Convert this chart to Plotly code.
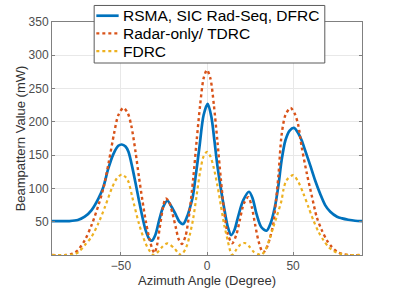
import plotly.graph_objects as go

# Blue: RSMA, SIC Rad-Seq, DFRC
rsma_angle = [-90, -80, -75, -71, -67, -63, -60.2, -57.3, -54.3, -51.5, -49.5, -47.3, -45.6, -43.4,
              -41.5, -39.5, -37.5, -35.6, -33.5, -32, -30, -27.8, -25.5, -23, -20.5, -18, -16, -13.8,
              -11.5, -10, -8.3, -6.5, -4.4, -2, 0.4, 2.5, 4.3, 6, 8.2, 10, 12.1, 14, 16, 18, 21,
              24.4, 26.5, 28.7, 31.5, 34.6, 37, 39.4, 41.5, 43.3, 45.5, 48, 50.5, 53, 55, 57, 59.9,
              62.8, 65.7, 68.6, 71.6, 75.5, 78.4, 82, 86, 90]
rsma_value = [51, 51, 52.5, 57.5, 67.5, 85, 102, 130, 152, 164, 166, 163, 155, 132,
              108, 82, 57, 37, 24, 21.5, 30, 52, 72, 81.5, 72, 60, 50, 46.5,
              58, 70, 87, 120, 162, 210, 227, 208, 172, 135, 97, 70, 42, 30, 38, 57, 82,
              95, 85, 62, 42, 36.5, 48, 72, 105, 142, 172, 187, 191, 183, 172, 157, 135,
              112, 92, 75, 65, 57.5, 55, 53, 51.5, 51]

# Red: Radar-only / TDRC
radar_angle = [-90, -82, -78, -75, -71, -67, -63, -60, -57, -54, -51.5, -48.5, -46, -44, -41.5,
               -39.5, -37.5, -35.5, -33.5, -31.5, -30.5, -29, -27.5, -25.5, -24, -22, -20, -18,
               -16.5, -14.6, -12.5, -10.3, -8, -6, -4, -2, 0, 2, 4, 6, 8, 10, 12, 14.6, 17, 19,
               21.5, 24, 26, 28, 30, 32.5, 34.5, 36.5, 38.5, 40, 41.5, 43.3, 45.5, 48.5, 51, 53,
               55, 58, 61, 63.7, 66.7, 69.6, 72.5, 75.5, 78.5, 82, 90]
radar_value = [0, 0, 2, 7, 22, 45, 75, 102, 140, 182, 210, 221, 213, 195, 155,
               117, 82, 50, 25, 7, 3, 15, 40, 72, 85, 80, 62, 40,
               24, 16.5, 28, 62, 115, 172, 225, 265, 278, 265, 225, 172, 115, 65, 32, 17.5, 30, 52,
               78, 87, 72, 45, 20, 3.5, 10, 25, 47, 80, 120, 180, 210, 221, 212, 195,
               162, 122, 87, 57, 37, 22, 12, 5, 1.5, 0, 0]

# Yellow: FDRC
fdrc_angle = [-90, -80, -77, -74.8, -70.9, -67, -63.1, -59.2, -55.3, -52.4, -49.5, -47.3, -45.6,
              -43.4, -39.5, -35.6, -33, -31, -29, -26.8, -23, -19, -17, -15, -12, -10, -8, -6,
              -4, -2, 0, 2, 4, 6, 8, 10, 12, 13.5, 14.6, 17, 19.5, 22, 24.5, 27, 30, 31.6, 34,
              36.5, 38.5, 40.4, 43.3, 44.3, 46.1, 50, 53, 56, 58.9, 61.8, 64.7, 67.7, 70.6, 73.5,
              77.4, 82, 90]
fdrc_value = [0, 0, 1, 4, 15, 27.5, 47.5, 72.5, 100, 115, 121, 117, 110,
              87, 47, 17, 5, 0, 3, 10, 17.5, 10, 4, 0, 12, 30, 55, 90,
              125, 148, 155, 148, 130, 105, 75, 45, 22, 6, 0, 8, 16, 18, 13, 5, 1, 0, 8,
              25, 42, 57, 82, 97, 112, 120, 110, 92, 72, 52, 35, 22, 12, 6,
              2, 0, 0]

series_names = ["RSMA, SIC Rad-Seq, DFRC", "Radar-only/ TDRC", "FDRC"]
series_colors = ["#0072BD", "#D95319", "#EDB120"]
series_dashes = ["solid", "dot", "dot"]
series_widths = [2.7, 2.4, 2.2]
y_ticks = [50, 100, 150, 200, 250, 300, 350]
x_ticks = [-50, 0, 50]

fig = go.Figure()
for ang, val, name, col, dash, w in zip([rsma_angle, radar_angle, fdrc_angle],
                                        [rsma_value, radar_value, fdrc_value],
                                        series_names, series_colors, series_dashes, series_widths):
    fig.add_trace(go.Scatter(x=ang, y=val, mode="lines", name=name, showlegend=False,
                             line=dict(color=col, width=w, dash=dash, shape="spline", smoothing=0.8)))

axis_common = dict(showline=True, linecolor="#808080", linewidth=1, mirror="allticks",
                   ticks="inside", ticklen=3, tickcolor="#808080",
                   showgrid=True, gridcolor="#e8e8e8", gridwidth=1, zeroline=False,
                   tickfont=dict(family="Liberation Sans, Arial", size=12, color="#4d4d4d"))

# Legend box (MATLAB-style, drawn in paper coordinates over the plot)
box_x0, box_x1, box_y0, box_y1 = 0.136, 0.88, 0.824, 1.071
sample_x0, sample_x1 = 0.143, 0.215
text_x = 0.222
entry_y = [1.027, 0.951, 0.875]

shapes = [dict(type="rect", xref="paper", yref="paper", x0=box_x0, x1=box_x1, y0=box_y0, y1=box_y1,
               fillcolor="white", line=dict(color="#5a5a5a", width=1), layer="above")]
annotations = []
for name, col, dash, w, ey in zip(series_names, series_colors, series_dashes, series_widths, entry_y):
    shapes.append(dict(type="line", xref="paper", yref="paper", x0=sample_x0, x1=sample_x1, y0=ey, y1=ey,
                       line=dict(color=col, width=w, dash=dash), layer="above"))
    annotations.append(dict(xref="paper", yref="paper", x=text_x, y=ey, xanchor="left", yanchor="middle",
                            text=name, showarrow=False,
                            font=dict(family="Liberation Sans, Arial", size=15.5, color="#000000")))

fig.update_layout(
    width=399, height=289,
    margin=dict(l=52, r=37, t=22, b=34, autoexpand=False),
    paper_bgcolor="white", plot_bgcolor="white",
    font=dict(family="Liberation Sans, Arial", color="#262626"),
    xaxis=dict(range=[-90, 90], tickvals=x_ticks,
               title=dict(text="Azimuth Angle (Degree)", font=dict(size=13, color="#333333"), standoff=2),
               **axis_common),
    yaxis=dict(range=[0, 350], tickvals=y_ticks,
               title=dict(text="Beampattern Value (mW)", font=dict(size=13, color="#333333"), standoff=0),
               **axis_common),
    shapes=shapes,
    annotations=annotations,
    showlegend=False,
)

fig.write_html("out.html", config={"displayModeBar": False, "staticPlot": True},
               post_script="document.body.style.margin='0';document.body.style.overflow='hidden';")
